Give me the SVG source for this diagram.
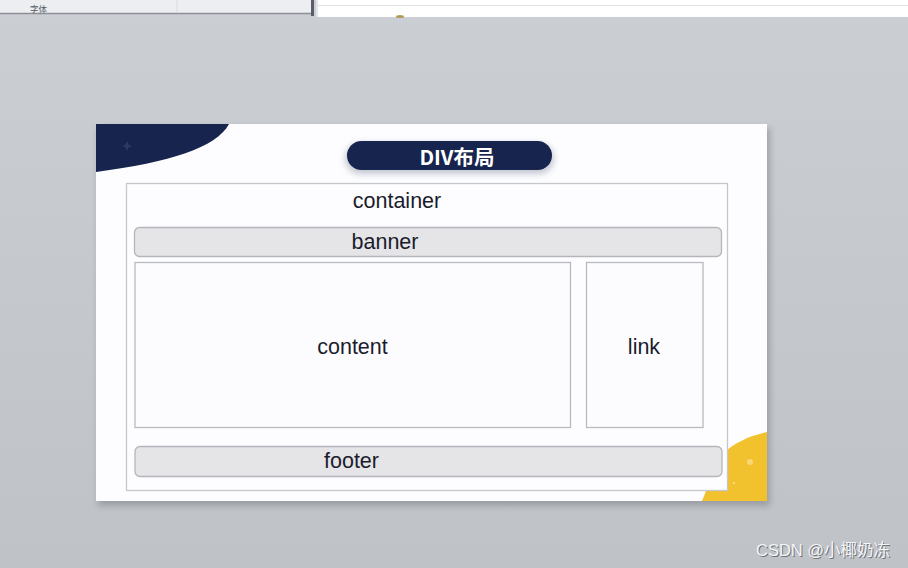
<svg xmlns="http://www.w3.org/2000/svg" width="908" height="568" viewBox="0 0 908 568">
  <defs>
    <linearGradient id="bg" x1="0" y1="0" x2="0" y2="1">
      <stop offset="0" stop-color="#cbced3"/>
      <stop offset="1" stop-color="#bfc2c7"/>
    </linearGradient>
    <filter id="shadow" x="-5%" y="-5%" width="110%" height="115%">
      <feGaussianBlur stdDeviation="3"/>
    </filter>
    <filter id="pillglow" x="-10%" y="-40%" width="120%" height="180%">
      <feGaussianBlur stdDeviation="3"/>
    </filter>
  </defs>
  <style>
    .lbl { font-family: "Liberation Sans", Arial, sans-serif; font-size: 21.5px; fill: #1a1c2c; text-anchor: middle; }
    .box { fill: #fcfcfe; stroke: #b9babf; stroke-width: 1.3; }
    .bar { fill: #e5e5e7; stroke: #b5b6bb; stroke-width: 1.3; }
  </style>

  <!-- background -->
  <rect x="0" y="0" width="908" height="568" fill="url(#bg)"/>

  <!-- top UI fragment -->
  <g id="toolbar">
    <rect x="0" y="0" width="311" height="13" fill="#eceef1"/>
    <line x1="0" y1="13.5" x2="311" y2="13.5" stroke="#8d9096" stroke-width="1.5"/>
    <line x1="177" y1="0" x2="177" y2="13" stroke="#d8dadd" stroke-width="1"/>
    <text x="30" y="11.5" font-family="'Noto Sans CJK SC', sans-serif" font-size="8.5" fill="#555a60">字体</text>
    <rect x="311" y="0" width="3" height="16" fill="#5a5e66"/>
    <rect x="316" y="0" width="2" height="17" fill="#e4e6ea"/>
    <rect x="318" y="0" width="590" height="17" fill="#ffffff"/>
    <line x1="318" y1="5.5" x2="908" y2="5.5" stroke="#e2e3e8" stroke-width="1"/>
    <ellipse cx="400" cy="16.5" rx="4" ry="1.5" fill="#b49a5a"/>
  </g>

  <!-- slide -->
  <g id="slide">
    <rect x="98" y="128" width="672" height="378" fill="#7d8087" opacity="0.55" filter="url(#shadow)"/>
    <rect x="96" y="124" width="671" height="377" fill="#fdfdff"/>
    <path d="M96,124 L229,124 C216,148 170,162 96,172 Z" fill="#17244d"/>
    <path d="M127,141 L128.5,144.5 L132,146 L128.5,147.5 L127,151 L125.5,147.5 L122,146 L125.5,144.5 Z" fill="#2c3a66"/>
    <path d="M767,432 C748,436 724,446 716,465 C709,482 706,492 702,501 L767,501 Z" fill="#f2c12e"/>
    <circle cx="750" cy="462" r="3" fill="#f6d874"/>
    <circle cx="734" cy="483" r="1.2" fill="#f6d874"/>
  </g>

  <!-- title pill -->
  <g id="title">
    <rect x="345" y="143" width="209" height="31" rx="15.5" fill="#8d93a6" opacity="0.5" filter="url(#pillglow)"/>
    <rect x="347" y="141" width="205" height="29" rx="14.5" fill="#17244d"/>
    <text x="457" y="165" text-anchor="middle" font-family="'Noto Sans CJK SC', 'Noto Sans', sans-serif" font-weight="bold" font-size="20.5" fill="#ffffff">DIV布局</text>
  </g>

  <!-- container -->
  <g id="container">
    <rect x="126.5" y="183.5" width="601" height="307" fill="#fdfdff" stroke="#c6c7cc" stroke-width="1.3"/>
    <text class="lbl" x="397" y="208">container</text>
  </g>

  <g id="banner">
    <rect class="bar" x="134.5" y="227.5" width="587" height="29" rx="5"/>
    <text class="lbl" x="385" y="248.5">banner</text>
  </g>

  <g id="content">
    <rect class="box" x="135" y="262.5" width="435.5" height="165"/>
    <text class="lbl" x="352.5" y="353.5">content</text>
  </g>

  <g id="link">
    <rect class="box" x="586.5" y="262.5" width="116.5" height="165"/>
    <text class="lbl" x="644" y="353.5">link</text>
  </g>

  <g id="footer">
    <rect class="bar" x="135" y="446.5" width="587" height="30" rx="5"/>
    <text class="lbl" x="351.5" y="468">footer</text>
  </g>

  <g id="connectors"></g>

  <!-- watermark -->
  <g id="watermark">
    <text x="757" y="557" font-family="'Liberation Sans', 'Noto Sans CJK SC', sans-serif" font-size="16.5" fill="#6f7278">CSDN @小椰奶冻</text>
    <text x="756" y="556" font-family="'Liberation Sans', 'Noto Sans CJK SC', sans-serif" font-size="16.5" fill="#f4f5f7">CSDN @小椰奶冻</text>
  </g>
</svg>
